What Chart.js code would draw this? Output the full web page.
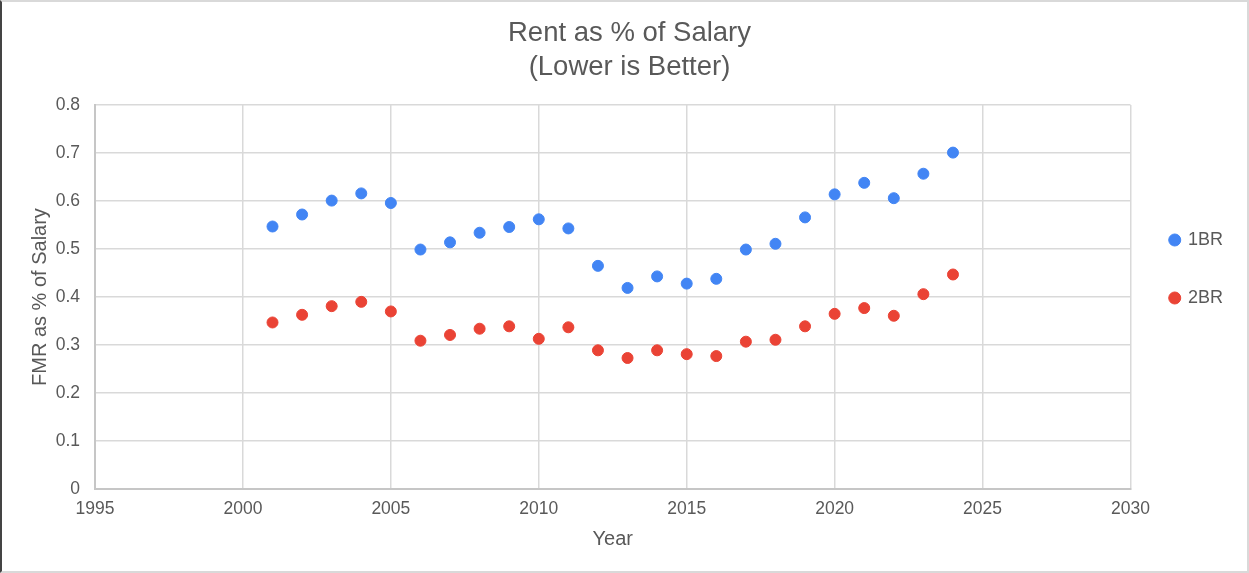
<!DOCTYPE html>
<html>
<head>
<meta charset="utf-8">
<script src="https://cdn.jsdelivr.net/npm/chart.js@4"></script>
<style>
  html, body { margin: 0; padding: 0; background: #fff; }
  #wrap {
    position: relative;
    width: 1245px; height: 569px;
    border: 2px solid #d9d9d9;
    border-left-color: #444;
    background: #fff;
  }
</style>
</head>
<body>
<div id="wrap"><canvas id="chart"></canvas></div>
<script>
// Years and values
const years = [2001, 2002, 2003, 2004, 2005, 2006, 2007, 2008, 2009, 2010, 2011, 2012,
               2013, 2014, 2015, 2016, 2017, 2018, 2019, 2020, 2021, 2022, 2023, 2024];
const oneBR = [0.547, 0.572, 0.601, 0.616, 0.596, 0.499, 0.514, 0.534, 0.546, 0.562, 0.543, 0.465,
               0.419, 0.443, 0.428, 0.438, 0.499, 0.511, 0.566, 0.614, 0.638, 0.606, 0.657, 0.701];
const twoBR = [0.347, 0.363, 0.381, 0.390, 0.370, 0.309, 0.321, 0.334, 0.339, 0.313, 0.337, 0.289,
               0.273, 0.289, 0.281, 0.277, 0.307, 0.311, 0.339, 0.365, 0.377, 0.361, 0.406, 0.447];
const seriesNames = ['1BR', '2BR'];
const titleLines = ['Rent as % of Salary', '(Lower is Better)'];

const FONT = "'Liberation Sans', Arial, sans-serif";
const TEXT = '#595959';
const toPoints = vals => years.map((y, i) => ({ x: y, y: vals[i] }));

const ctx = document.getElementById('chart').getContext('2d');
new Chart(ctx, {
  type: 'scatter',
  data: {
    datasets: [
      { label: seriesNames[0], data: toPoints(oneBR), backgroundColor: '#4285f4', borderColor: '#4285f4', pointRadius: 5.5, pointHoverRadius: 5.5 },
      { label: seriesNames[1], data: toPoints(twoBR), backgroundColor: '#ea4335', borderColor: '#ea4335', pointRadius: 5.5, pointHoverRadius: 5.5 }
    ]
  },
  options: {
    responsive: true,
    maintainAspectRatio: false,
    animation: false,
    layout: { padding: { left: 24, right: 14, top: 10, bottom: 17 } },
    plugins: {
      title: {
        display: true,
        text: titleLines,
        color: TEXT,
        font: { size: 27.5, family: FONT, weight: 'normal', lineHeight: 1.22 },
        padding: { top: 5, bottom: 21 }
      },
      legend: {
        position: 'right',
        align: 'start',
        // an empty legend title pushes the items down to where the reference has them
        title: { display: true, text: ' ', font: { size: 10 }, padding: { top: 0, bottom: 167 } },
        labels: {
          usePointStyle: true,
          pointStyle: 'circle',
          boxWidth: 8.5,
          boxHeight: 8.5,
          padding: 40,
          color: TEXT,
          font: { size: 18, family: FONT }
        }
      },
      tooltip: { enabled: false }
    },
    scales: {
      x: {
        type: 'linear',
        min: 1995,
        max: 2030,
        afterFit: s => { s.height = 65; },
        ticks: { stepSize: 5, color: TEXT, font: { size: 17.5, family: FONT }, padding: 10,
                 callback: v => String(v) },
        grid: { color: '#d9d9d9', lineWidth: 1.5, drawTicks: false },
        border: { color: '#c6c6c6', width: 2 },
        title: { display: true, text: 'Year', color: TEXT, font: { size: 20, family: FONT }, padding: { top: 0, bottom: 3 } }
      },
      y: {
        min: 0,
        max: 0.8,
        afterFit: s => { s.width = 69; },
        ticks: { stepSize: 0.1, color: TEXT, font: { size: 17.5, family: FONT }, padding: 15,
                 callback: v => Number(v.toFixed(1)).toString() },
        grid: { color: '#d9d9d9', lineWidth: 1.5, drawTicks: false },
        border: { color: '#c6c6c6', width: 2 },
        title: { display: true, text: 'FMR as % of Salary', color: TEXT, font: { size: 20, family: FONT }, padding: { top: 2, bottom: 0 } }
      }
    }
  }
});
</script>
</body>
</html>
